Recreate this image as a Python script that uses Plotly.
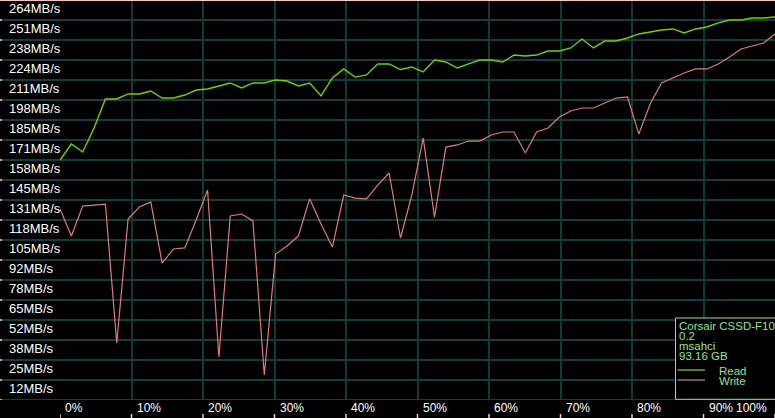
import plotly.graph_objects as go

# ---------------- data ----------------
n_points = 64
x_pct = [i * 100.0 / (n_points - 1) for i in range(n_points)]

read_mbs = [159.1, 169.7, 164.4, 180.3, 199.6, 199.6, 202.9, 202.9, 204.9, 200.2,
            200.2, 202.2, 205.5, 206.2, 208.2, 210.2, 206.9, 210.2, 210.2, 212.2,
            211.5, 208.2, 210.2, 201.6, 213.5, 219.5, 214.1, 215.5, 222.8, 222.8,
            219.1, 220.8, 217.5, 225.4, 224.1, 220.1, 222.8, 225.4, 225.4, 224.1,
            228.7, 228.1, 228.7, 231.4, 231.4, 233.4, 239.3, 233.4, 238.0, 238.0,
            240.0, 242.7, 244.0, 245.3, 246.0, 243.3, 246.0, 247.3, 250.0, 251.9,
            251.9, 253.3, 253.3, 253.9]

write_mbs = [126.6, 108.7, 128.6, 129.3, 129.9, 37.8, 120.0, 128.0, 131.3, 90.8,
             100.1, 100.8, 119.3, 139.2, 28.5, 122.0, 123.3, 118.7, 16.6, 96.8,
             102.1, 108.7, 133.3, 116.7, 101.4, 135.9, 133.9, 133.3, 142.5, 150.5,
             107.4, 135.9, 173.7, 121.3, 167.7, 169.1, 171.7, 171.7, 175.7, 177.7,
             177.7, 163.8, 177.7, 180.3, 187.6, 191.6, 193.6, 193.6, 196.9, 200.2,
             200.9, 176.4, 196.2, 210.2, 213.5, 216.8, 219.5, 219.5, 222.8, 227.4,
             232.7, 234.7, 236.7, 242.7]

y_labels = ["12MB/s", "25MB/s", "38MB/s", "52MB/s", "65MB/s", "78MB/s", "92MB/s",
            "105MB/s", "118MB/s", "131MB/s", "145MB/s", "158MB/s", "171MB/s",
            "185MB/s", "198MB/s", "211MB/s", "224MB/s", "238MB/s", "251MB/s",
            "264MB/s"]
band = 13.26  # MB/s per grid band

x_ticks = [0, 10, 20, 30, 40, 50, 60, 70, 80, 90, 100]
x_labels = ["0%", "10%", "20%", "30%", "40%", "50%", "60%", "70%", "80%", "90%", "100%"]

legend_info = ["Corsair CSSD-F100", "0.2", "msahci", "93.16 GB"]
series_names = ["Read", "Write"]

# ---------------- layout geometry ----------------
W, H = 775, 418
ML, MB = 60, 18
PW, PH = W - ML, H - MB
FONT = "Liberation Sans, Arial, sans-serif"

def px_x(p):  # pixel x -> paper
    return (p - ML) / PW

def px_y(p):  # pixel y -> paper
    return (PH - p) / PH

read_col = "#72d200"
write_col = "#e27a7a"
grid_h = "#1c5250"
grid_v = "#0f3b36"
pink = "#ffc4c4"
leg_col = "#93e493"

fig = go.Figure()
fig.add_trace(go.Scatter(x=x_pct, y=write_mbs, mode="lines", name="Write",
                         line=dict(color=write_col, width=1.2), showlegend=False))
fig.add_trace(go.Scatter(x=x_pct, y=read_mbs, mode="lines", name="Read",
                         line=dict(color=read_col, width=1.4), showlegend=False))

shapes = []
annotations = []

# horizontal grid lines across the whole width (incl. label column)
n_bands = len(y_labels)
for k in range(n_bands + 1):
    yv = k * band
    shapes.append(dict(type="line", xref="paper", yref="y", x0=px_x(0), x1=1,
                       y0=yv, y1=yv, line=dict(color=grid_h, width=1.3), layer="below"))
    # pink tick at left edge
    shapes.append(dict(type="line", xref="paper", yref="y", x0=px_x(0), x1=px_x(2),
                       y0=yv, y1=yv, line=dict(color=pink, width=1.3), layer="above"))

# top pink line
shapes.append(dict(type="line", xref="paper", yref="paper", x0=px_x(0), x1=1,
                   y0=1, y1=1, line=dict(color=pink, width=2), layer="above"))

# bottom pink ticks under each vertical grid line
for xv in x_ticks:
    shapes.append(dict(type="line", xref="x", yref="paper", x0=xv, x1=xv,
                       y0=px_y(414), y1=px_y(418), line=dict(color=pink, width=1.5)))

# y labels (left aligned, centered in bands)
for k, lab in enumerate(y_labels):
    annotations.append(dict(text=lab, xref="paper", yref="y", x=px_x(7), y=(k + 0.5) * band + 0.8,
                            xanchor="left", yanchor="middle", showarrow=False,
                            font=dict(family=FONT, size=13, color="#ffffff")))

# x labels (left aligned to grid lines; last one right aligned)
for xv, lab in zip(x_ticks, x_labels):
    last = xv == x_ticks[-1]
    annotations.append(dict(text=lab, xref="x", yref="paper", x=xv, y=px_y(408),
                            xanchor="right" if last else "left", yanchor="middle",
                            xshift=-6 if last else 3, showarrow=False,
                            font=dict(family=FONT, size=12, color="#ffffff")))

# legend box
shapes.append(dict(type="rect", xref="paper", yref="paper", x0=px_x(675.5), x1=px_x(790),
                   y0=px_y(399.3), y1=px_y(318), fillcolor="#000000",
                   line=dict(color=leg_col, width=1), layer="above"))
info_y = [326, 336, 345.5, 355.5]
for txt, yy in zip(legend_info, info_y):
    annotations.append(dict(text=txt, xref="paper", yref="paper", x=px_x(677), y=px_y(yy),
                            xanchor="left", yanchor="middle", showarrow=False,
                            font=dict(family=FONT, size=11.5, color=leg_col)))
leg_line_cols = ["#b6f23c", "#eea3a3"]
for name, yy, lc in zip(series_names, [370, 380], leg_line_cols):
    shapes.append(dict(type="line", xref="paper", yref="paper", x0=px_x(677.5), x1=px_x(705),
                       y0=px_y(yy), y1=px_y(yy), line=dict(color=lc, width=1), layer="above"))
    annotations.append(dict(text=name, xref="paper", yref="paper", x=px_x(717), y=px_y(yy + 0.5),
                            xanchor="left", yanchor="middle", showarrow=False,
                            font=dict(family=FONT, size=11.5, color=leg_col)))

fig.update_layout(
    width=W, height=H,
    margin=dict(l=ML, r=0, t=0, b=MB, pad=0),
    paper_bgcolor="#000000", plot_bgcolor="#000000",
    showlegend=False,
    xaxis=dict(range=[0, 100], tickvals=x_ticks, showticklabels=False, ticks="",
               showgrid=True, gridcolor=grid_v, gridwidth=2, zeroline=False,
               showline=False, fixedrange=True),
    yaxis=dict(range=[0, n_bands * band], showgrid=False, showticklabels=False,
               ticks="", zeroline=False, showline=False, fixedrange=True),
    shapes=shapes,
    annotations=annotations,
)

fig.write_html(
    "out.html",
    config={"displayModeBar": False},
    post_script="document.body.style.margin='0';document.body.style.overflow='hidden';"
                "document.body.style.background='#000';",
)
